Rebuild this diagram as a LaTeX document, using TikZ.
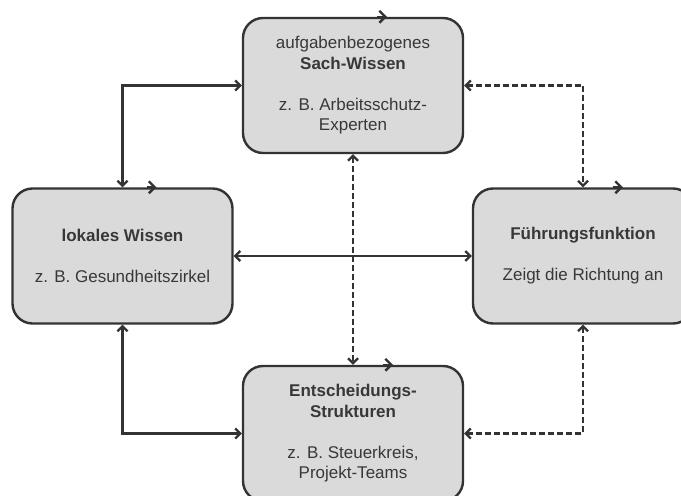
\documentclass[tikz,border=0pt]{standalone}
\usepackage{fontspec}
\setmainfont{Liberation Sans}
\usetikzlibrary{arrows.meta}
\definecolor{boxfill}{HTML}{DADADA}
\definecolor{ink}{HTML}{333333}
\definecolor{txt}{HTML}{383838}
\begin{document}
\begin{tikzpicture}[x=1bp,y=-1bp,
  box/.style={draw=ink, line width=2.4bp, fill=boxfill, rounded corners=20bp,
    minimum width=220bp, minimum height=135bp, inner sep=0pt, align=center,
    text=txt, font=\fontsize{17bp}{20.5bp}\selectfont},
  link/.style={draw=ink, line width=2.2bp,
    {Straight Barb[length=5bp,width=10bp]}-{Straight Barb[length=5bp,width=10bp]}},
  dlink/.style={link, dash pattern=on 6bp off 3bp},
  chev/.style={draw=ink, line width=2.4bp, -{Straight Barb[length=6bp,width=12bp]}}]
\useasboundingbox (0,0) rectangle (681,496);

\node[box] (top) at (353,85.5) {aufgabenbezogenes\\\textbf{Sach-Wissen}\\[20.5bp]z. B. Arbeitsschutz-\\Experten};
\node[box] (left) at (122.5,256) {\textbf{lokales Wissen}\\[20.5bp]z. B. Gesundheitszirkel};
\node[box] (right) at (583,256) {\textbf{Führungsfunktion}\\[20.5bp]Zeigt die Richtung an};
\node[box] (bottom) at (353,433.5) {\textbf{Entscheidungs-}\\\textbf{Strukturen}\\[20.5bp]z. B. Steuerkreis,\\Projekt-Teams};

\draw[chev] ([xshift=24bp]top.north) -- ([xshift=34bp]top.north);
\draw[chev] ([xshift=24bp]left.north) -- ([xshift=34bp]left.north);
\draw[chev] ([xshift=30bp]right.north) -- ([xshift=40bp]right.north);
\draw[chev] ([xshift=30bp]bottom.north) -- ([xshift=40bp]bottom.north);

\draw[link] (left.east) -- (right.west);
\draw[link] (top.west) -| (left.north);
\draw[dlink] (top.east) -| (right.north);
\draw[link] (left.south) |- (bottom.west);
\draw[dlink] (right.south) |- (bottom.east);
\draw[dlink] (top.south) -- (bottom.north);
\end{tikzpicture}
\end{document}
